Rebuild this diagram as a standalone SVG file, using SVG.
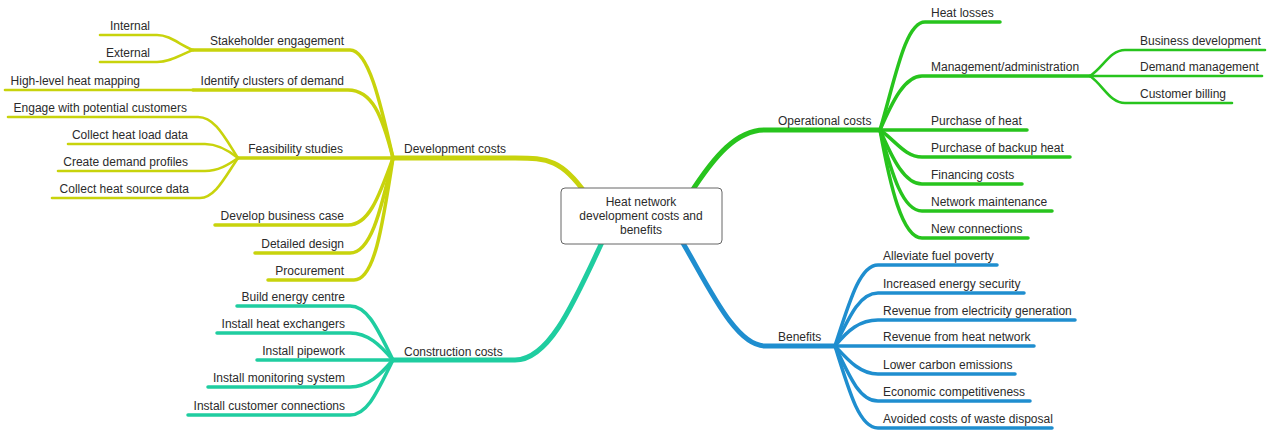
<svg xmlns="http://www.w3.org/2000/svg" width="1273" height="432" viewBox="0 0 1273 432">
<style>
text{font-family:"Liberation Sans",Arial,sans-serif;font-size:12px;fill:#2b2b2b}
.e{text-anchor:end}
.c{text-anchor:middle}
path{fill:none;stroke-linecap:round;stroke-linejoin:round}
.y{stroke:#c8d30c}
.g{stroke:#27c41d}
.t{stroke:#1fcda0}
.b{stroke:#1f8ecf}
.w1{stroke-width:5}
.w2{stroke-width:3.5}
.w3{stroke-width:2.6}
</style>
<rect width="1273" height="432" fill="#fff"/>
<g id="connectors">
<!-- main branches -->
<path class="y w1" d="M586,194 C562,160 548,158 515,158 L393,158"/>
<path class="t w1" d="M393,360 L515,360 C550,360 575,300 604,238"/>
<path class="g w1" d="M690,194 C715,155 737,130 765,130 L880,130"/>
<path class="b w1" d="M680,238 C708,285 735,346 765,346 L835,346"/>
<!-- development -->
<path class="y w2" d="M393,158 C380,100 368,50 350,50 L193,50"/>
<path class="y w2" d="M393,158 C382,115 372,90 348,90 L193,90"/>
<path class="y w3" d="M193,90 L5,90"/>
<path class="y w2" d="M393,158 L238,158"/>
<path class="y w2" d="M393,158 C378,200 368,225 348,225 L215,225"/>
<path class="y w2" d="M393,158 C380,215 370,253 350,253 L255,253"/>
<path class="y w2" d="M393,158 C382,230 374,280 354,280 L268,280"/>
<path class="y w3" d="M193,50 C180,45 170,35 157,35 L100,35"/>
<path class="y w3" d="M193,50 C180,55 170,62 157,62 L100,62"/>
<path class="y w3" d="M238,158 C225,138 215,117 198,117 L8,117"/>
<path class="y w3" d="M238,158 C228,150 218,144 205,144 L68,144"/>
<path class="y w3" d="M238,158 C228,165 218,171 205,171 L58,171"/>
<path class="y w3" d="M238,158 C225,177 215,198 200,198 L52,198"/>
<!-- construction -->
<path class="t w2" d="M393,360 C378,330 368,306 350,306 L237,306"/>
<path class="t w2" d="M393,360 C380,345 368,333 350,333 L217,333"/>
<path class="t w2" d="M393,360 L257,360"/>
<path class="t w2" d="M393,360 C380,375 368,387 350,387 L208,387"/>
<path class="t w2" d="M393,360 C378,390 368,415 350,415 L188,415"/>
<!-- operational -->
<path class="g w2" d="M880,130 C895,80 905,22 925,22 L1000,22"/>
<path class="g w2" d="M880,130 C893,100 905,76 922,76 L1090,76"/>
<path class="g w3" d="M1090,76 C1103,68 1110,50 1125,50 L1265,50"/>
<path class="g w3" d="M1090,76 L1262,76"/>
<path class="g w3" d="M1090,76 C1103,85 1110,103 1125,103 L1232,103"/>
<path class="g w2" d="M880,130 L1027,130"/>
<path class="g w2" d="M880,130 C895,140 905,157 922,157 L1070,157"/>
<path class="g w2" d="M880,130 C893,160 905,184 922,184 L1022,184"/>
<path class="g w2" d="M880,130 C892,175 903,211 922,211 L1052,211"/>
<path class="g w2" d="M880,130 C890,185 902,238 922,238 L1028,238"/>
<!-- benefits -->
<path class="b w2" d="M835,346 C850,300 860,265 878,265 L997,265"/>
<path class="b w2" d="M835,346 C850,315 860,293 878,293 L1024,293"/>
<path class="b w2" d="M835,346 C848,330 860,320 878,320 L1075,320"/>
<path class="b w2" d="M835,346 L1034,346"/>
<path class="b w2" d="M835,346 C848,360 860,374 878,374 L1015,374"/>
<path class="b w2" d="M835,346 C850,378 860,401 878,401 L1030,401"/>
<path class="b w2" d="M835,346 C850,395 860,428 878,428 L1052,428"/>
</g>
<g id="center">
<rect x="561" y="188" width="161" height="56" rx="4" fill="#fff" stroke="#666" stroke-width="1"/>
<text class="c" x="641" y="206">Heat network</text>
<text class="c" x="641" y="220">development costs and</text>
<text class="c" x="641" y="234">benefits</text>
</g>
<g id="development">
<text x="404" y="153">Development costs</text>
<g id="stakeholder"><text class="e" x="344" y="45">Stakeholder engagement</text></g>
<g id="internal"><text class="e" x="150" y="30">Internal</text></g>
<g id="external"><text class="e" x="150" y="57">External</text></g>
<g id="clusters"><text class="e" x="344" y="85">Identify clusters of demand</text></g>
<g id="mapping"><text class="e" x="140" y="85">High-level heat mapping</text></g>
<g id="feasibility"><text class="e" x="343" y="153">Feasibility studies</text></g>
<g id="engage"><text class="e" x="187" y="112">Engage with potential customers</text></g>
<g id="heatload"><text class="e" x="188" y="139">Collect heat load data</text></g>
<g id="profiles"><text class="e" x="188" y="166">Create demand profiles</text></g>
<g id="source"><text class="e" x="189" y="193">Collect heat source data</text></g>
<g id="business"><text class="e" x="344" y="220">Develop business case</text></g>
<g id="design"><text class="e" x="344" y="248">Detailed design</text></g>
<g id="procurement"><text class="e" x="344" y="275">Procurement</text></g>
</g>
<g id="construction">
<text x="404" y="356">Construction costs</text>
<g id="energycentre"><text class="e" x="345" y="301">Build energy centre</text></g>
<g id="exchangers"><text class="e" x="345" y="328">Install heat exchangers</text></g>
<g id="pipework"><text class="e" x="345" y="355">Install pipework</text></g>
<g id="monitoring"><text class="e" x="345" y="382">Install monitoring system</text></g>
<g id="customerconn"><text class="e" x="345" y="410">Install customer connections</text></g>
</g>
<g id="operational">
<text x="778" y="125">Operational costs</text>
<g id="heatlosses"><text x="931" y="17">Heat losses</text></g>
<g id="management"><text x="931" y="71">Management/administration</text></g>
<g id="busdev"><text x="1140" y="45">Business development</text></g>
<g id="demandmgmt"><text x="1140" y="71">Demand management</text></g>
<g id="billing"><text x="1140" y="98">Customer billing</text></g>
<g id="purchase"><text x="931" y="125">Purchase of heat</text></g>
<g id="backup"><text x="931" y="152">Purchase of backup heat</text></g>
<g id="financing"><text x="931" y="179">Financing costs</text></g>
<g id="maintenance"><text x="931" y="206">Network maintenance</text></g>
<g id="newconn"><text x="931" y="233">New connections</text></g>
</g>
<g id="benefits">
<text x="778" y="341">Benefits</text>
<g id="fuelpoverty"><text x="883" y="260">Alleviate fuel poverty</text></g>
<g id="security"><text x="883" y="288">Increased energy security</text></g>
<g id="electricity"><text x="883" y="315">Revenue from electricity generation</text></g>
<g id="revheat"><text x="883" y="341">Revenue from heat network</text></g>
<g id="carbon"><text x="883" y="369">Lower carbon emissions</text></g>
<g id="competitive"><text x="883" y="396">Economic competitiveness</text></g>
<g id="waste"><text x="883" y="423">Avoided costs of waste disposal</text></g>
</g>
</svg>
